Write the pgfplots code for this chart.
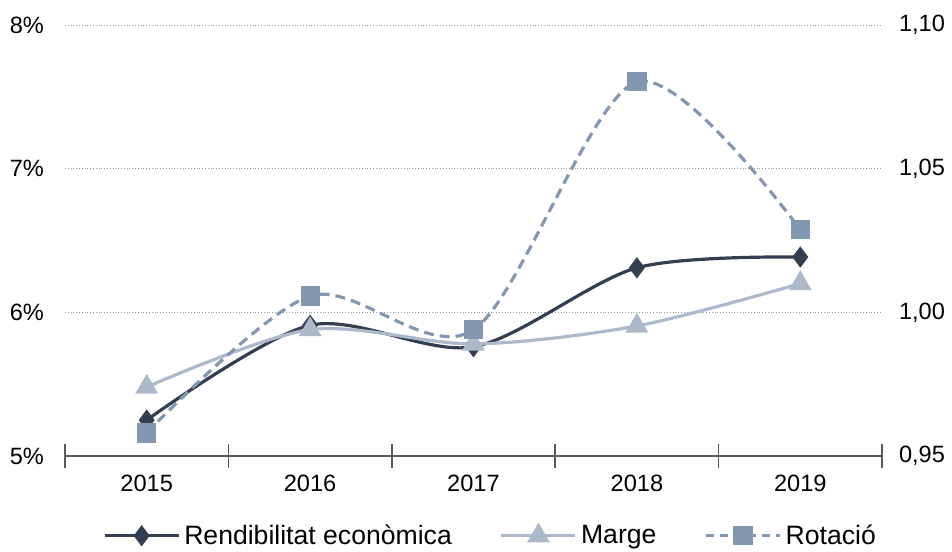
\documentclass[border=0pt]{standalone}
\usepackage{pgfplots}
\pgfplotsset{compat=1.18}
\usepackage{fontspec}
\setmainfont{Liberation Sans}
\definecolor{rend}{HTML}{333F50}
\definecolor{marge}{HTML}{ADB9CA}
\definecolor{rota}{HTML}{8497B0}
\definecolor{axisgray}{HTML}{595959}
\pgfplotsset{
  base/.style={
    scale only axis, width=408.5pt, height=215.5pt,
    xmin=-0.5, xmax=4.5,
    axis line style={draw=none},
    tick style={draw=none},
    tick label style={font=\fontsize{11.8}{14}\selectfont},
    /pgf/number format/assume math mode=true,
  },
}
\begin{document}
\begin{tikzpicture}
\begin{axis}[base, clip=false,
  ymin=5, ymax=8, ytick={5,6,7,8},
  yticklabel={\pgfmathprintnumber[fixed,precision=0]{\tick}\%},
  ymajorgrids, grid style={gray!80, densely dotted, line width=0.5pt},
  xtick={0,1,2,3,4}, xticklabels={2015,2016,2017,2018,2019},
  xticklabel style={yshift=-6pt},
  ytick pos=left, yticklabel style={xshift=-7pt},
  legend columns=3,
  legend style={draw=none, fill=none, font=\fontsize{13.3}{15}\selectfont,
    at={(0.522,-0.185)}, anchor=center,
    /tikz/every even column/.append style={column sep=22pt}},
  legend image code/.code={\draw[mark repeat=2,mark phase=2] plot coordinates {(0pt,0pt)(18.5pt,0pt)(37pt,0pt)};},
]
\addplot[rend, line width=1.6pt, smooth, tension=0.5, mark=diamond*, mark size=4pt, mark options={solid, fill=rend}]
  coordinates {(0,5.25) (1,5.91) (2,5.76) (3,6.31) (4,6.385)};
\addlegendentry{Rendibilitat econòmica}
\addplot[marge, line width=1.6pt, smooth, tension=0.5, mark=triangle*, mark size=5pt, mark options={solid, fill=marge}]
  coordinates {(0,5.48) (1,5.88) (2,5.78) (3,5.905) (4,6.20)};
\addlegendentry{Marge}
\addlegendimage{rota, line width=1.6pt, dash pattern=on 4pt off 3pt, mark=square*, mark size=4pt, mark options={solid, fill=rota}}
\addlegendentry{Rotació}
% x axis line with boundary ticks
\draw[axisgray, line width=0.75pt] (axis cs:-0.5,5) -- (axis cs:4.5,5);
\pgfplotsinvokeforeach{-0.5,0.5,1.5,2.5,3.5,4.5}{
  \draw[axisgray, line width=0.75pt] ([yshift=-6pt]axis cs:#1,5) -- ([yshift=6pt]axis cs:#1,5);
}
\end{axis}
\begin{axis}[base,
  ymin=0.95, ymax=1.10, ytick={0.95,1.00,1.05,1.10},
  axis y line*=right, axis x line=none,
  yticklabel style={xshift=5pt, /pgf/number format/.cd,fixed,fixed zerofill,precision=2,use comma},
]
\addplot[rota, line width=1.6pt, dash pattern=on 5pt off 3pt, smooth, tension=0.5, mark=square*, mark size=4pt, mark options={solid, fill=rota}]
  coordinates {(0,0.958) (1,1.0057) (2,0.9939) (3,1.0802) (4,1.0287)};
\end{axis}
\pgfresetboundingbox
\path (-32.5pt,-47.5pt) rectangle (443.5pt,228pt);
\end{tikzpicture}
\end{document}
